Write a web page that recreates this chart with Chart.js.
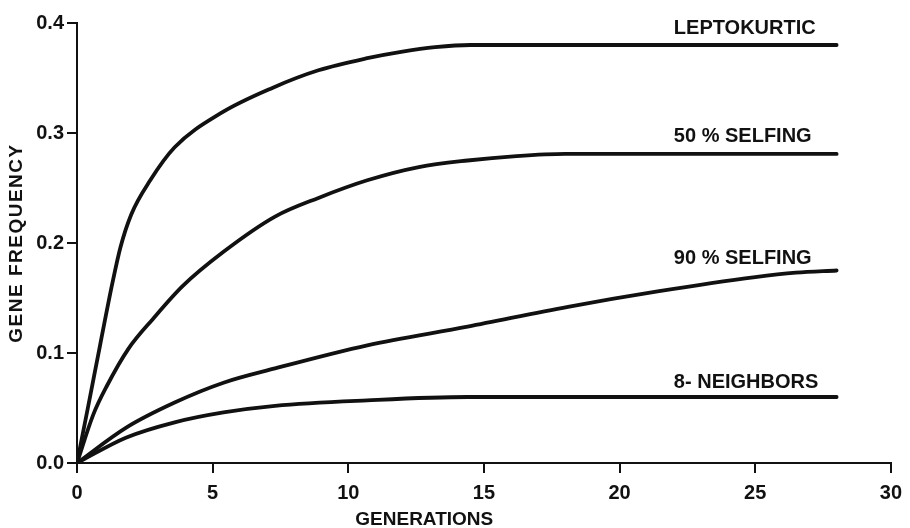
<!DOCTYPE html>
<html>
<head>
<meta charset="utf-8">
<script src="https://cdn.jsdelivr.net/npm/chart.js@4.4.1/dist/chart.umd.min.js"></script>
<style>
  html, body { margin: 0; padding: 0; background: #fff; }
  #wrap { width: 910px; height: 528px; position: relative; }
</style>
</head>
<body>
<div id="wrap"><canvas id="c"></canvas></div>
<script>
// Gene frequency over generations for four mating / dispersal models
const leptoGen  = [0, 0.4, 0.85, 1.3, 1.6, 2.0, 2.7, 3.6, 5.3, 7.2, 8.9, 10.7, 12.0, 13.2, 14.5, 18, 23, 28];
const leptoFreq = [0, 0.050, 0.107, 0.163, 0.196, 0.226, 0.257, 0.287, 0.318, 0.341, 0.357, 0.368, 0.374, 0.378, 0.380, 0.380, 0.380, 0.380];

const self50Gen  = [0, 0.6, 1.1, 1.9, 2.8, 3.9, 5.4, 7.3, 8.9, 10.7, 12.6, 14.4, 16.2, 18, 22, 28];
const self50Freq = [0, 0.044, 0.070, 0.104, 0.131, 0.161, 0.192, 0.224, 0.241, 0.257, 0.269, 0.275, 0.279, 0.281, 0.281, 0.281];

const self90Gen  = [0, 1.8, 3.6, 5.4, 7.3, 10.7, 14.4, 18.1, 21.4, 25, 26.5, 28];
const self90Freq = [0, 0.032, 0.055, 0.073, 0.086, 0.107, 0.124, 0.142, 0.156, 0.169, 0.173, 0.175];

const neighGen  = [0, 1.8, 3.6, 5.4, 7.3, 10.7, 14.4, 20, 28];
const neighFreq = [0, 0.023, 0.037, 0.046, 0.052, 0.057, 0.060, 0.060, 0.060];

const seriesNames = ['LEPTOKURTIC', '50 % SELFING', '90 % SELFING', '8- NEIGHBORS'];
const xTicks = [0, 5, 10, 15, 20, 25, 30];
const yTicks = [0.0, 0.1, 0.2, 0.3, 0.4];

const FONT = '"Liberation Sans", Arial, sans-serif';

function pts(xs, ys) { return xs.map((x, i) => ({ x: x, y: ys[i] })); }

function line(name, xs, ys) {
  return {
    label: name,
    data: pts(xs, ys),
    borderColor: '#111',
    borderWidth: 3.8,
    pointRadius: 0,
    fill: false,
    cubicInterpolationMode: 'monotone',
    borderCapStyle: 'round',
    borderJoinStyle: 'round'
  };
}

// Curve names written above the right-hand end of each curve, plus axis titles
const annotate = {
  id: 'annotate',
  afterDatasetsDraw(chart) {
    const ctx = chart.ctx;
    const xs = chart.scales.x, ys = chart.scales.y;
    ctx.save();
    ctx.fillStyle = '#111';
    ctx.font = 'bold 20px ' + FONT;
    ctx.textAlign = 'left';
    ctx.textBaseline = 'alphabetic';
    const lift = [11, 12, 7, 9];
    chart.data.datasets.forEach((ds, i) => {
      const last = ds.data[ds.data.length - 1];
      ctx.fillText(ds.label, xs.getPixelForValue(22), ys.getPixelForValue(last.y) - lift[i]);
    });
    // x axis title
    ctx.font = 'bold 19px ' + FONT;
    ctx.textAlign = 'center';
    ctx.textBaseline = 'alphabetic';
    ctx.fillText('GENERATIONS', xs.getPixelForValue(12.8), chart.height - 3);
    // y axis title
    ctx.translate(17, ys.getPixelForValue(0.2));
    ctx.rotate(-Math.PI / 2);
    ctx.textBaseline = 'middle';
    ctx.font = 'bold 19px ' + FONT;
    if ('letterSpacing' in ctx) ctx.letterSpacing = '1.5px';
    ctx.fillText('GENE FREQUENCY', 0, 0);
    ctx.restore();
  }
};

new Chart(document.getElementById('c'), {
  type: 'line',
  data: {
    datasets: [
      line(seriesNames[0], leptoGen, leptoFreq),
      line(seriesNames[1], self50Gen, self50Freq),
      line(seriesNames[2], self90Gen, self90Freq),
      line(seriesNames[3], neighGen, neighFreq)
    ]
  },
  options: {
    responsive: true,
    maintainAspectRatio: false,
    animation: false,
    devicePixelRatio: 1,
    layout: { padding: { left: 0, right: 15, top: 23, bottom: 0 } },
    plugins: { legend: { display: false }, tooltip: { enabled: false } },
    scales: {
      x: {
        type: 'linear',
        min: 0, max: 30,
        afterFit(s) { s.height = 65; },
        afterBuildTicks(s) { s.ticks = xTicks.map(v => ({ value: v })); },
        grid: { drawOnChartArea: false, drawTicks: true, tickLength: 10, lineWidth: 2, color: '#111' },
        border: { display: true, color: '#111', width: 2 },
        ticks: {
          color: '#111',
          padding: 8,
          font: { family: FONT, size: 20, weight: 'bold' },
          callback: v => String(v)
        }
      },
      y: {
        type: 'linear',
        min: 0, max: 0.4,
        afterFit(s) { s.width = 77; },
        afterBuildTicks(s) { s.ticks = yTicks.map(v => ({ value: v })); },
        grid: { drawOnChartArea: false, drawTicks: true, tickLength: 10, lineWidth: 2, color: '#111' },
        border: { display: true, color: '#111', width: 2 },
        ticks: {
          color: '#111',
          padding: 3,
          font: { family: FONT, size: 20, weight: 'bold' },
          callback: v => v.toFixed(1)
        }
      }
    }
  },
  plugins: [annotate]
});
</script>
</body>
</html>
